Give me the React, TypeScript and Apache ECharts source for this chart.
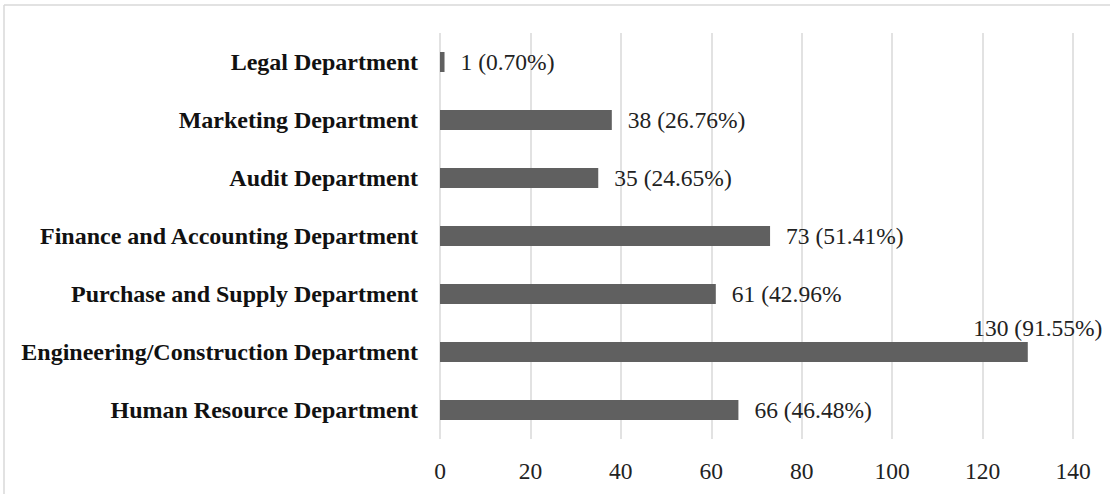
import React, { useEffect, useRef } from "react";
import * as echarts from "echarts";

const categories = [
  "Human Resource Department",
  "Engineering/Construction Department",
  "Purchase and Supply Department",
  "Finance and Accounting Department",
  "Audit Department",
  "Marketing Department",
  "Legal Department",
];
const values = [66, 130, 61, 73, 35, 38, 1];
const valueLabels = [
  "66 (46.48%)",
  "130 (91.55%)",
  "61 (42.96%",
  "73 (51.41%)",
  "35 (24.65%)",
  "38 (26.76%)",
  "1 (0.70%)",
];

export default function App() {
  const ref = useRef<HTMLDivElement>(null);
  useEffect(() => {
    if (!ref.current) return;
    const chart = echarts.init(ref.current, null, { renderer: "svg" });
    const font = "'Liberation Serif', 'Times New Roman', serif";
    chart.setOption({
      animation: false,
      backgroundColor: "#ffffff",
      textStyle: { fontFamily: font },
      grid: { left: 440, right: 37, top: 33, bottom: 55, containLabel: false },
      xAxis: {
        type: "value",
        min: 0,
        max: 140,
        interval: 20,
        axisLine: { show: false },
        axisTick: { show: false },
        splitLine: { show: true, lineStyle: { color: "#d9d9d9", width: 1.5 } },
        axisLabel: { color: "#222", fontSize: 23.5, fontFamily: font, margin: 20 },
      },
      yAxis: {
        type: "category",
        data: categories,
        axisLine: { show: false },
        axisTick: { show: false },
        axisLabel: {
          color: "#111",
          fontSize: 24,
          fontWeight: "bold",
          fontFamily: font,
          margin: 22,
        },
      },
      series: [
        {
          type: "bar",
          data: values.map((v) => {
            const item: any = { value: v };
            if (v === 130) {
              item.label = {
                position: ["100%", -14],
                align: "center",
                verticalAlign: "middle",
                offset: [10, 0],
              };
            }
            return item;
          }),
          barWidth: 20,
          itemStyle: { color: "#606060" },
          label: {
            show: true,
            position: "right",
            distance: 16,
            color: "#222",
            fontSize: 23.5,
            fontFamily: font,
            formatter: (p: any) => valueLabels[p.dataIndex],
          },
        },
      ],
      graphic: [
        { type: "line", shape: { x1: 4, y1: 5, x2: 1110, y2: 5 }, style: { stroke: "#d9d9d9", lineWidth: 1.5 } },
        { type: "line", shape: { x1: 4, y1: 5, x2: 4, y2: 494 }, style: { stroke: "#d9d9d9", lineWidth: 1.5 } },
      ],
    });
    return () => chart.dispose();
  }, []);
  return (
    <div
      ref={ref}
      style={{ position: "fixed", left: 0, top: 0, width: 1110, height: 494 }}
    />
  );
}
